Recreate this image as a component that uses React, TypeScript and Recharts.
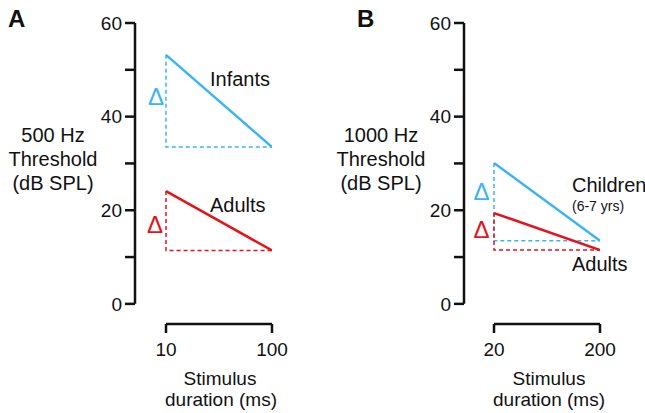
import React from 'react';
import { LineChart, Line, XAxis, YAxis, ReferenceLine } from 'recharts';

// ---- data ----
const durationsA = [10, 100];
const infantsA = [53.2, 33.5];
const adultsA = [24.1, 11.4];

const durationsB = [20, 200];
const childrenB = [30.1, 13.5];
const adultsB = [19.4, 11.5];

const thresholdTicks = [0, 10, 20, 30, 40, 50, 60];
const labeledTicks = [0, 20, 40, 60];

const BLUE = '#3CB4F0';
const RED = '#E3141C';
const INK = '#111111';
const FONT = '"Liberation Sans", Arial, Helvetica, sans-serif';

const Y_MIN = -4.3;
const Y_MAX = 60;

const solid = (xs: number[], ys: number[]) => xs.map((x, i) => ({ x, y: ys[i] }));
const dashed = (xs: number[], ys: number[]) => [
  { x: xs[0], y: ys[0] },
  { x: xs[0], y: ys[1] },
  { x: xs[1], y: ys[1] },
];

type PanelProps = {
  left: number;
  width: number;
  yAxisWidth: number;
  rightMargin: number;
  xs: number[];
  xLo: number;
  upper: number[];
  lower: number[];
};

const Panel = ({ left, width, yAxisWidth, rightMargin, xs, xLo, upper, lower }: PanelProps) => (
  <div style={{ position: 'absolute', left, top: 0 }}>
    <LineChart
      width={width}
      height={413}
      margin={{ top: 23, right: rightMargin, bottom: 59, left: 0 }}
    >
      <XAxis
        type="number"
        dataKey="x"
        scale="log"
        domain={[xLo, xs[1]]}
        allowDataOverflow
        ticks={xs}
        axisLine={false}
        tickLine={{ stroke: INK, strokeWidth: 2.5 }}
        tickSize={9}
        tickMargin={10}
        height={30}
        tick={{ fontSize: 19, fill: INK, fontFamily: FONT }}
        interval={0}
      />
      <YAxis
        type="number"
        domain={[Y_MIN, Y_MAX]}
        allowDataOverflow
        ticks={thresholdTicks}
        tickFormatter={(v: number) => (labeledTicks.includes(v) ? String(v) : '')}
        axisLine={false}
        tickLine={{ stroke: INK, strokeWidth: 2.5 }}
        tickSize={10}
        tickMargin={3}
        width={yAxisWidth}
        tick={{ fontSize: 19, fill: INK, fontFamily: FONT }}
        interval={0}
      />
      <ReferenceLine
        segment={[{ x: xLo, y: 0 }, { x: xLo, y: Y_MAX }]}
        stroke={INK}
        strokeWidth={2.5}
        ifOverflow="visible"
      />
      <ReferenceLine
        segment={[{ x: xs[0], y: Y_MIN }, { x: xs[1], y: Y_MIN }]}
        stroke={INK}
        strokeWidth={2.5}
        ifOverflow="visible"
      />
      <Line
        data={dashed(xs, upper)}
        dataKey="y"
        stroke={BLUE}
        strokeWidth={1.5}
        strokeDasharray="4 3"
        dot={false}
        isAnimationActive={false}
      />
      <Line
        data={dashed(xs, lower)}
        dataKey="y"
        stroke={RED}
        strokeWidth={1.5}
        strokeDasharray="4 3"
        dot={false}
        isAnimationActive={false}
      />
      <Line
        data={solid(xs, upper)}
        dataKey="y"
        stroke={BLUE}
        strokeWidth={2.5}
        dot={false}
        isAnimationActive={false}
      />
      <Line
        data={solid(xs, lower)}
        dataKey="y"
        stroke={RED}
        strokeWidth={2.5}
        dot={false}
        isAnimationActive={false}
      />
    </LineChart>
  </div>
);

export default function App() {
  const t = { fontFamily: FONT, fill: INK } as const;
  return (
    <div
      style={{
        position: 'absolute',
        left: 0,
        top: 0,
        width: 645,
        height: 413,
        background: '#fff',
        fontFamily: FONT,
        overflow: 'hidden',
      }}
    >
      <Panel
        left={0}
        width={300}
        yAxisWidth={135}
        rightMargin={28}
        xs={durationsA}
        xLo={5.1}
        upper={infantsA}
        lower={adultsA}
      />
      <Panel
        left={330}
        width={315}
        yAxisWidth={134}
        rightMargin={45}
        xs={durationsB}
        xLo={10.42}
        upper={childrenB}
        lower={adultsB}
      />
      <svg
        width={645}
        height={413}
        style={{ position: 'absolute', left: 0, top: 0, pointerEvents: 'none' }}
      >
        {/* panel letters */}
        <text x={8} y={27} fontSize={24} fontWeight="bold" {...t}>A</text>
        <text x={357} y={27} fontSize={24} fontWeight="bold" {...t}>B</text>

        {/* y titles */}
        <g fontSize={20} textAnchor="middle" {...t}>
          <text x={53} y={142}>500 Hz</text>
          <text x={53} y={166}>Threshold</text>
          <text x={53} y={190}>(dB SPL)</text>
          <text x={381} y={142}>1000 Hz</text>
          <text x={381} y={166}>Threshold</text>
          <text x={381} y={190}>(dB SPL)</text>
        </g>

        {/* x titles */}
        <g fontSize={19} textAnchor="middle" {...t}>
          <text x={220} y={385}>Stimulus</text>
          <text x={221} y={406}>duration (ms)</text>
          <text x={549} y={385}>Stimulus</text>
          <text x={549} y={406}>duration (ms)</text>
        </g>

        {/* series labels */}
        <g fontSize={20} {...t}>
          <text x={210} y={86}>Infants</text>
          <text x={210} y={212}>Adults</text>
          <text x={572} y={192}>Children</text>
          <text x={572} y={271}>Adults</text>
        </g>
        <text x={572} y={211} fontSize={14} {...t}>(6-7 yrs)</text>

        {/* deltas */}
        <g fontSize={24} textAnchor="middle" fontFamily={FONT}>
          <text x={156} y={105} fill={BLUE}>Δ</text>
          <text x={155} y={233} fill={RED}>Δ</text>
          <text x={481.5} y={200} fill={BLUE}>Δ</text>
          <text x={481.5} y={238} fill={RED}>Δ</text>
        </g>
      </svg>
    </div>
  );
}
